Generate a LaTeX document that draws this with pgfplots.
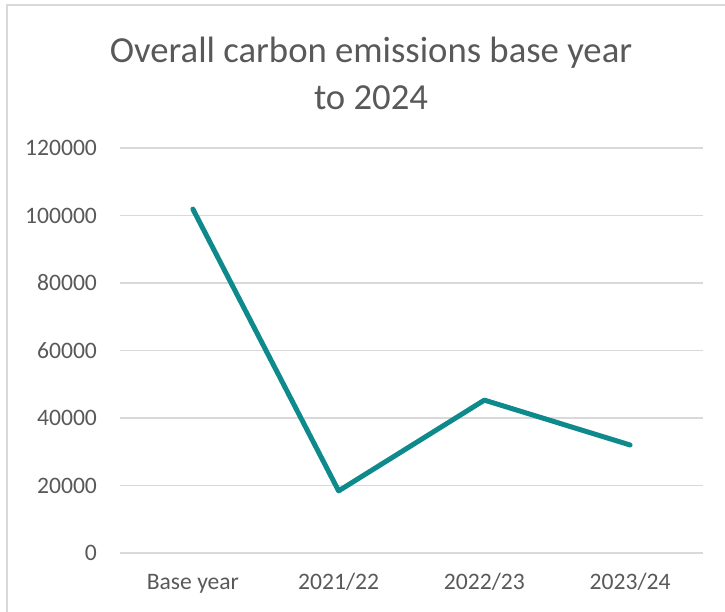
\documentclass[border=0pt]{standalone}
\usepackage{fontspec}
\setmainfont{Carlito}
\usepackage{pgfplots}
\pgfplotsset{compat=1.18}
\definecolor{txtgray}{HTML}{595959}
\definecolor{gridgray}{HTML}{D9D9D9}
\definecolor{teal}{RGB}{15,138,140}
\begin{document}
\begin{tikzpicture}
\useasboundingbox (-60pt,-29.5pt) rectangle (302.5pt,276.5pt);
% chart area border (top and left edges)
\draw[gridgray, line width=0.75pt] (-56.5pt,-29.5pt) -- (-56.5pt,274pt) -- (302.5pt,274pt);
\begin{axis}[
  at={(0pt,0pt)}, anchor=south west,
  width=291.5pt, height=202.5pt, scale only axis,
  xmin=-0.5, xmax=3.5,
  ymin=0, ymax=120000,
  xtick={0,1,2,3},
  xticklabels={Base year,2021/22,2022/23,2023/24},
  ytick={0,20000,...,120000},
  axis line style={draw=none},
  axis x line*=bottom,
  x axis line style={gridgray, line width=0.75pt},
  major tick length=0pt,
  ymajorgrids,
  grid style={gridgray, line width=0.75pt},
  tick label style={font=\fontsize{11.8pt}{14pt}\selectfont, text=txtgray},
  /pgf/number format/assume math mode=true,
  /pgf/number format/fixed,
  /pgf/number format/set thousands separator={},
  scaled y ticks=false,
  yticklabel style={anchor=east, xshift=-8pt},
  xticklabel style={anchor=base, yshift=-18.5pt},
  clip=false,
]
\addplot[teal, line width=2.5pt, line join=round, line cap=round] coordinates {
  (0,101900) (1,18400) (2,45300) (3,32000)
};
\end{axis}
\node[text=txtgray, font=\fontsize{18.35pt}{23.5pt}\selectfont, align=center] at (125.5pt,240pt)
  {Overall carbon emissions base year\\to 2024};
\end{tikzpicture}
\end{document}
